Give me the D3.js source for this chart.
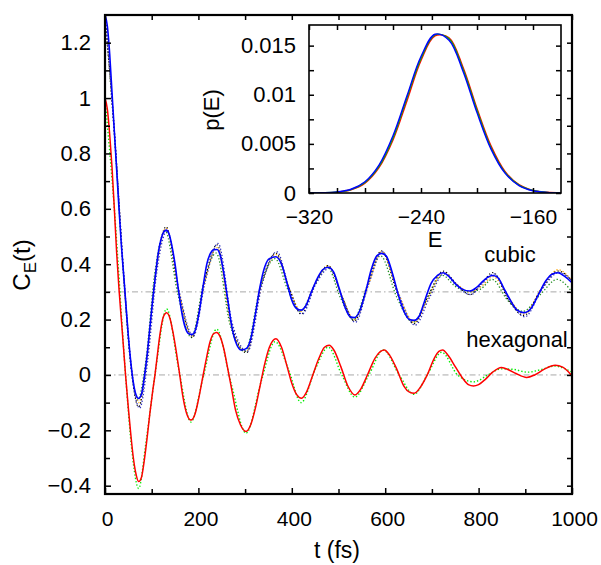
<!DOCTYPE html>
<html>
<head>
<meta charset="utf-8">
<style>
  body { margin: 0; background: #fff; }
  text { font-family: "Liberation Sans", Arial, sans-serif; }
</style>
</head>
<body>
<svg width="601" height="565"></svg>
<script src="https://d3js.org/d3.v7.min.js"></script>
<script>

// hexagonal, red solid  [t (fs), C_E]
var hexRed = [[0,1.0],[5,0.96],[10,0.87],[15,0.75],[20,0.6],[25,0.44],[30,0.31],[35,0.2],[40,0.09],[44,0.0],
  [50,-0.12],[55,-0.21],[60,-0.29],[66,-0.355],[72,-0.385],[78,-0.37],[84,-0.31],[90,-0.23],[96,-0.14],[102,-0.06],
  [107,0.0],[112,0.07],[118,0.15],[125,0.21],[132,0.225],[139,0.205],[146,0.15],[153,0.08],[160,0.0],[167,-0.08],
  [175,-0.14],[184,-0.163],[193,-0.14],[200,-0.09],[208,-0.02],[216,0.05],[225,0.12],[232,0.148],[239,0.153],[246,0.14],
  [255,0.09],[262,0.03],[270,-0.04],[280,-0.13],[290,-0.18],[302,-0.204],[312,-0.18],[322,-0.12],[332,-0.04],[342,0.04],
  [352,0.1],[366,0.131],[378,0.1],[390,0.03],[400,-0.03],[410,-0.07],[421,-0.084],[432,-0.06],[445,0.0],[458,0.06],
  [470,0.1],[480,0.107],[490,0.09],[505,0.03],[520,-0.04],[535,-0.072],[548,-0.05],[562,0.0],[578,0.06],[590,0.085],
  [598,0.09],[610,0.07],[625,0.02],[640,-0.04],[652,-0.062],[662,-0.066],[675,-0.045],[690,0.0],[705,0.06],[715,0.085],
  [723,0.09],[735,0.07],[750,0.03],[765,-0.01],[778,-0.035],[789,-0.04],[800,-0.035],[815,-0.015],[830,0.01],[849,0.027],
  [865,0.018],[880,0.005],[903,-0.009],[920,0.0],[940,0.02],[964,0.035],[980,0.028],[990,0.015],[1000,-0.004]];

// hexagonal, light green dotted
var hexGreen = [[0,1.0],[20,0.6],[44,0.0],[58,-0.28],[72,-0.41],[88,-0.24],[107,0.0],[132,0.238],[158,0.02],[184,-0.17],
  [210,-0.01],[239,0.165],[270,-0.03],[302,-0.21],[335,-0.02],[364,0.12],[393,0.02],[420,-0.1],[450,0.02],[478,0.1],
  [507,0.0],[535,-0.08],[565,0.0],[596,0.09],[630,0.0],[662,-0.07],[690,0.0],[721,0.082],[755,0.0],[790,-0.025],
  [820,0.0],[848,0.022],[875,0.02],[905,0.01],[935,0.02],[962,0.032],[1000,0.01]];

// cubic (shifted by +0.3), blue solid
var cubBlue = [[0,1.3],[5,1.26],[10,1.16],[15,1.02],[20,0.88],[25,0.74],[30,0.6],[35,0.47],[40,0.36],[45,0.25],
  [50,0.14],[55,0.05],[60,-0.02],[66,-0.07],[72,-0.085],[78,-0.07],[84,-0.01],[90,0.07],[96,0.17],[102,0.27],
  [108,0.36],[114,0.44],[120,0.49],[126,0.517],[131,0.523],[137,0.51],[144,0.46],[150,0.4],[157,0.31],[164,0.23],
  [172,0.17],[180,0.148],[187,0.147],[194,0.165],[202,0.23],[210,0.32],[218,0.4],[226,0.44],[233,0.452],[240,0.453],
  [247,0.43],[255,0.36],[263,0.27],[272,0.17],[282,0.11],[292,0.09],[303,0.096],[312,0.13],[322,0.22],[332,0.32],
  [342,0.39],[352,0.42],[366,0.427],[378,0.4],[390,0.33],[400,0.27],[410,0.24],[420,0.234],[430,0.25],[442,0.3],
  [455,0.35],[466,0.38],[478,0.389],[490,0.37],[502,0.31],[515,0.24],[525,0.21],[534,0.207],[545,0.23],[558,0.3],
  [570,0.38],[582,0.43],[592,0.439],[602,0.43],[615,0.37],[628,0.29],[640,0.23],[652,0.2],[662,0.197],[672,0.21],
  [685,0.27],[698,0.33],[712,0.36],[724,0.369],[737,0.355],[750,0.33],[765,0.31],[781,0.303],[795,0.315],[810,0.34],
  [822,0.355],[831,0.359],[842,0.35],[855,0.31],[868,0.27],[882,0.235],[897,0.225],[912,0.24],[928,0.29],[944,0.34],
  [958,0.365],[970,0.369],[985,0.355],[1000,0.333]];

// cubic, dotted companions
var cubBlack = [[0,1.3],[20,0.88],[40,0.36],[55,0.04],[72,-0.115],[90,0.06],[108,0.36],[131,0.535],[157,0.31],[187,0.135],
  [213,0.34],[240,0.47],[270,0.19],[303,0.08],[335,0.33],[366,0.44],[393,0.32],[420,0.22],[450,0.33],[478,0.395],
  [506,0.29],[534,0.195],[563,0.33],[592,0.448],[627,0.29],[662,0.185],[693,0.29],[724,0.375],[752,0.33],[781,0.29],
  [806,0.33],[831,0.37],[864,0.27],[897,0.215],[934,0.31],[970,0.375],[1000,0.34]];
var cubOrange = [[0,1.3],[20,0.88],[40,0.36],[55,0.05],[72,-0.1],[90,0.07],[108,0.36],[131,0.53],[157,0.31],[187,0.14],
  [213,0.33],[240,0.46],[270,0.18],[303,0.085],[335,0.32],[366,0.435],[393,0.32],[420,0.23],[450,0.33],[478,0.395],
  [506,0.29],[534,0.2],[563,0.32],[592,0.445],[627,0.3],[662,0.19],[693,0.28],[724,0.37],[752,0.33],[781,0.3],
  [806,0.32],[831,0.355],[864,0.28],[897,0.22],[934,0.31],[970,0.38],[1000,0.34]];
var cubDkGreen = [[0,1.3],[20,0.87],[40,0.35],[55,0.04],[70,-0.09],[88,0.06],[106,0.36],[129,0.52],[155,0.3],[185,0.135],
  [211,0.33],[238,0.44],[268,0.18],[300,0.085],[333,0.32],[364,0.42],[391,0.31],[418,0.23],[448,0.32],[476,0.39],
  [504,0.28],[532,0.2],[561,0.32],[590,0.43],[625,0.28],[660,0.19],[691,0.28],[722,0.36],[750,0.32],[779,0.3],
  [804,0.31],[829,0.345],[862,0.27],[895,0.23],[932,0.29],[968,0.345],[1000,0.3]];
var cubBlueDot = [[0,1.3],[20,0.88],[40,0.37],[55,0.05],[74,-0.12],[92,0.06],[110,0.36],[133,0.52],[159,0.3],[189,0.14],
  [215,0.34],[242,0.475],[272,0.19],[305,0.085],[337,0.33],[368,0.445],[395,0.31],[422,0.22],[452,0.33],[480,0.385],
  [508,0.28],[536,0.19],[565,0.33],[594,0.445],[629,0.29],[664,0.18],[695,0.28],[726,0.365],[754,0.32],[783,0.29],
  [808,0.33],[833,0.365],[866,0.27],[899,0.21],[936,0.31],[972,0.37],[1000,0.34]];

var refLevels = [0.3, 0];

// inset: energy distribution p(E)
var energies = [-320,-310,-300,-290,-280,-270,-260,-250,-240,-230,-220,-210,-200,-190,-180,-170,-160,-150,-140];
var pBlue  = [0.000005,0.000024,0.00011,0.00038,0.00115,0.00284,0.00582,0.00989,0.01389,0.01616,0.01556,0.0124,0.00818,0.00447,0.00202,0.00076,0.00023,0.00006,0.000013];
var pGreen = [0.000004,0.000022,0.0001,0.00035,0.00108,0.0027,0.0056,0.0097,0.0137,0.0161,0.0157,0.0126,0.0084,0.0046,0.0021,0.0008,0.00025,0.000065,0.000014];
var pRed   = [0.000004,0.00002,0.00009,0.00033,0.00101,0.00258,0.0054,0.0094,0.0135,0.0160,0.0158,0.0128,0.0086,0.0048,0.0022,0.00085,0.00027,0.00007,0.000015];

var xTicks = [0, 200, 400, 600, 800, 1000];
var xMinor = [100, 300, 500, 700, 900];
var yTicks = [-0.4, -0.2, 0, 0.2, 0.4, 0.6, 0.8, 1, 1.2];
var yMinor = [-0.3, -0.1, 0.1, 0.3, 0.5, 0.7, 0.9, 1.1];
var exTicks = [-320, -240, -160];
var exMinor = [-300, -280, -260, -220, -200, -180];
var pTicks = [0, 0.005, 0.01, 0.015];
var pMinor = [0.0025, 0.0075, 0.0125];

var svg = d3.select("svg");
var fmt = function (v) { return String(+v.toFixed(4)).replace("-", "\u2212"); };

var x = d3.scaleLinear().domain([0, 1000]).range([105, 572]);
var y = d3.scaleLinear().domain([-0.43, 1.3]).range([494, 15]);

svg.append("clipPath").attr("id", "clip").append("rect")
  .attr("x", 105).attr("y", 15).attr("width", 467).attr("height", 479);

var plot = svg.append("g").attr("clip-path", "url(#clip)");

plot.selectAll(".ref").data(refLevels).enter().append("line")
  .attr("x1", x(0)).attr("x2", x(1000))
  .attr("y1", function (d) { return y(d); }).attr("y2", function (d) { return y(d); })
  .attr("stroke", "#a8a8a8").attr("stroke-width", 1).attr("stroke-dasharray", "6,3,1.5,3");

var line = d3.line().curve(d3.curveMonotoneX)
  .x(function (d) { return x(d[0]); })
  .y(function (d) { return y(d[1]); });

var series = [
  {d: cubDkGreen, c: "#1e8c1e", w: 1.3, dash: "1.3,2"},
  {d: cubOrange, c: "#ffa500", w: 1.3, dash: "1.3,2"},
  {d: cubBlack, c: "#000000", w: 1.2, dash: "1.2,2.2"},
  {d: cubBlueDot, c: "#3030c0", w: 1.3, dash: "1.3,2"},
  {d: cubBlue, c: "#0000ff", w: 1.6, dash: null},
  {d: hexGreen, c: "#00ee00", w: 1.4, dash: "1.4,2"},
  {d: hexRed, c: "#ff0000", w: 1.5, dash: null}
];
series.forEach(function (s) {
  plot.append("path").datum(s.d)
    .attr("fill", "none").attr("stroke", s.c).attr("stroke-width", s.w)
    .attr("stroke-dasharray", s.dash).attr("d", line);
});

function styleAxis(g, size) {
  g.select(".domain").remove();
  g.selectAll("line").attr("stroke", "#000").attr("stroke-width", 1.5);
  g.selectAll("text").attr("font-size", size).attr("fill", "#000")
    .attr("font-family", "'Liberation Sans', Arial, sans-serif");
}

// main axes
svg.append("g").attr("transform", "translate(0,494)")
  .call(d3.axisBottom(x).tickValues(xTicks).tickSize(-6).tickPadding(17).tickFormat(fmt))
  .call(styleAxis, 21).selectAll("text").attr("dx", 2);
svg.append("g").attr("transform", "translate(0,494)")
  .call(d3.axisBottom(x).tickValues(xMinor).tickSize(-5).tickFormat(""))
  .call(styleAxis, 21);
svg.append("g").attr("transform", "translate(0,15)")
  .call(d3.axisTop(x).tickValues(xTicks.concat(xMinor)).tickSize(-5).tickFormat(""))
  .call(styleAxis, 21);
svg.append("g").attr("transform", "translate(105,0)")
  .call(d3.axisLeft(y).tickValues(yTicks).tickSize(-6).tickPadding(14).tickFormat(fmt))
  .call(styleAxis, 22);
svg.append("g").attr("transform", "translate(105,0)")
  .call(d3.axisLeft(y).tickValues(yMinor).tickSize(-5).tickFormat(""))
  .call(styleAxis, 22);
svg.append("g").attr("transform", "translate(572,0)")
  .call(d3.axisRight(y).tickValues(yTicks.concat(yMinor)).tickSize(-5).tickFormat(""))
  .call(styleAxis, 22);

svg.append("rect").attr("x", 105).attr("y", 15).attr("width", 467).attr("height", 479)
  .attr("fill", "none").attr("stroke", "#000").attr("stroke-width", 2.2);

// series labels
svg.append("text").attr("x", 510).attr("y", 262).attr("text-anchor", "middle")
  .attr("font-size", 22).text("cubic");
svg.append("text").attr("x", 517).attr("y", 347).attr("text-anchor", "middle")
  .attr("font-size", 22).text("hexagonal");

// axis titles
svg.append("text").attr("x", 337).attr("y", 558).attr("text-anchor", "middle")
  .attr("font-size", 23).text("t (fs)");
var yl = svg.append("text").attr("transform", "translate(30,265) rotate(-90)")
  .attr("text-anchor", "middle").attr("font-size", 24);
yl.append("tspan").text("C");
yl.append("tspan").attr("font-size", 17).attr("dy", 6).text("E");
yl.append("tspan").attr("dy", -6).text("(t)");

// inset
var ex = d3.scaleLinear().domain([-320, -140]).range([309, 561]);
var ey = d3.scaleLinear().domain([0, 0.0171]).range([193, 25]);

svg.append("rect").attr("x", 309).attr("y", 25).attr("width", 252).attr("height", 168).attr("fill", "#fff");

svg.append("clipPath").attr("id", "clip2").append("rect")
  .attr("x", 309).attr("y", 25).attr("width", 252).attr("height", 168);
var inset = svg.append("g").attr("clip-path", "url(#clip2)");

var eline = d3.line().curve(d3.curveCatmullRom)
  .x(function (d, i) { return ex(energies[i]); })
  .y(function (d) { return ey(d); });

[{d: pRed, c: "#ff0000"}, {d: pGreen, c: "#00c000"}, {d: pBlue, c: "#0000ff"}].forEach(function (s) {
  inset.append("path").datum(s.d).attr("fill", "none").attr("stroke", s.c)
    .attr("stroke-width", 1.4).attr("d", eline);
});

svg.append("g").attr("transform", "translate(0,193)")
  .call(d3.axisBottom(ex).tickValues(exTicks).tickSize(-5).tickPadding(16).tickFormat(fmt))
  .call(styleAxis, 21);
svg.append("g").attr("transform", "translate(0,193)")
  .call(d3.axisBottom(ex).tickValues(exMinor).tickSize(-5).tickFormat(""))
  .call(styleAxis, 21);
svg.append("g").attr("transform", "translate(0,25)")
  .call(d3.axisTop(ex).tickValues(exTicks.concat(exMinor)).tickSize(-5).tickFormat(""))
  .call(styleAxis, 21);
svg.append("g").attr("transform", "translate(309,0)")
  .call(d3.axisLeft(ey).tickValues(pTicks).tickSize(-5).tickPadding(13).tickFormat(fmt))
  .call(styleAxis, 22);
svg.append("g").attr("transform", "translate(309,0)")
  .call(d3.axisLeft(ey).tickValues(pMinor).tickSize(-5).tickFormat(""))
  .call(styleAxis, 22);
svg.append("g").attr("transform", "translate(561,0)")
  .call(d3.axisRight(ey).tickValues(pTicks.concat(pMinor)).tickSize(-5).tickFormat(""))
  .call(styleAxis, 22);

svg.append("rect").attr("x", 309).attr("y", 25).attr("width", 252).attr("height", 168)
  .attr("fill", "none").attr("stroke", "#000").attr("stroke-width", 1.6);

svg.append("text").attr("x", 435).attr("y", 247).attr("text-anchor", "middle")
  .attr("font-size", 22).text("E");
svg.append("text").attr("transform", "translate(219,110) rotate(-90)")
  .attr("text-anchor", "middle").attr("font-size", 22).text("p(E)");

</script>
</body>
</html>
